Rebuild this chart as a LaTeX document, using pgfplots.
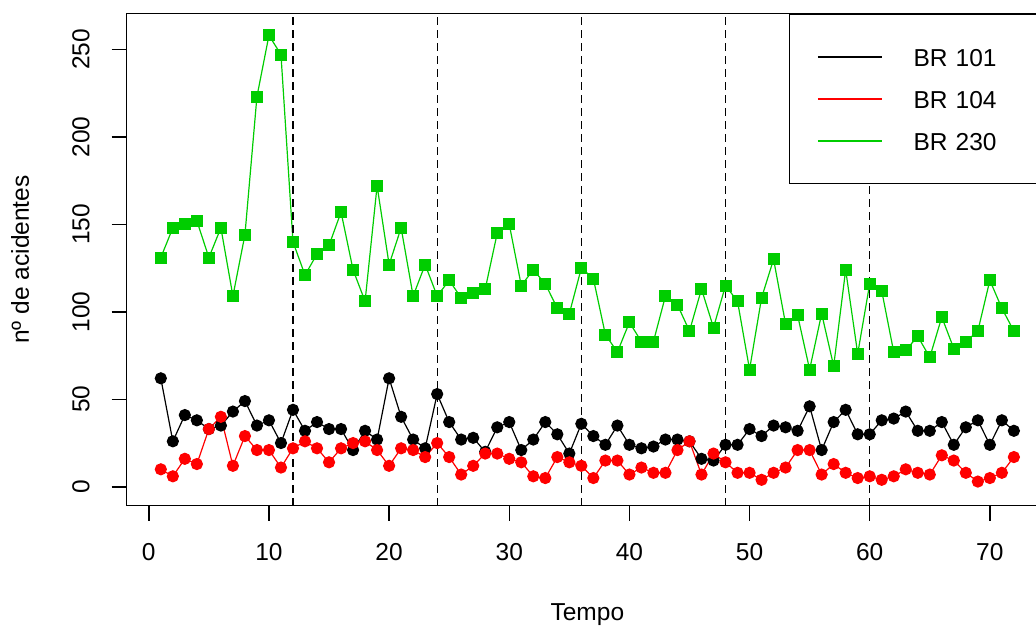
\documentclass[border=0pt]{standalone}
\usepackage{pgfplots}
\pgfplotsset{compat=1.18}
\usepackage{fontspec}
\setmainfont{Liberation Sans}
\definecolor{rgreen}{RGB}{0,205,0}
\begin{document}
\begin{tikzpicture}[font=\fontsize{12.25}{14}\selectfont]
\begin{axis}[
  at={(0,0)}, anchor=south west,
  scale only axis, width=460.65pt, height=246.2pt,
  xmin=-1.84, xmax=74.84, ymin=-10.8, ymax=270.6,
  xtick={0,10,...,70}, ytick={0,50,...,250},
  tick align=outside, major tick length=7.5pt,
  xtick pos=bottom, ytick pos=left,
  axis line style={line width=0.75pt},
  every tick/.style={black, line width=0.75pt},
  /pgf/number format/assume math mode=true,
  xticklabel style={anchor=center},
  xticklabel shift=15.5pt,
  yticklabel style={anchor=center, rotate=90},
  yticklabel shift=15.35pt,
  xlabel={Tempo},
  ylabel={nº de acidentes},
  every axis x label/.style={at={([yshift=-57.5pt]axis description cs:0.5,0)}, anchor=base},
  every axis y label/.style={at={([xshift=-53.3pt]axis description cs:0,0.5)}, rotate=90, anchor=center},
  legend style={at={(rel axis cs:1,1)}, anchor=north east, draw=black, line width=0.75pt, fill=white,
    inner xsep=13.7pt, inner ysep=13.1pt, row sep=4.5pt, column sep=13.5pt,
    /tikz/every even column/.append style={text height=11pt, text depth=8.24pt, text width=51.15pt, inner sep=0pt}},
  legend cell align=left,
  legend image code/.code={\draw[#1, line width=0.75pt] (0pt,0pt) -- (32pt,0pt);},
]
\addplot[black, line width=0.6pt, mark=*, mark size=2.75pt, mark options={solid}] coordinates {
(1,62)(2,26)(3,41)(4,38)(5,33)(6,35)(7,43)(8,49)(9,35)(10,38)(11,25)(12,44)
(13,32)(14,37)(15,33)(16,33)(17,21)(18,32)(19,27)(20,62)(21,40)(22,27)(23,22)(24,53)
(25,37)(26,27)(27,28)(28,20)(29,34)(30,37)(31,21)(32,27)(33,37)(34,30)(35,19)(36,36)
(37,29)(38,24)(39,35)(40,24)(41,22)(42,23)(43,27)(44,27)(45,26)(46,16)(47,15)(48,24)
(49,24)(50,33)(51,29)(52,35)(53,34)(54,32)(55,46)(56,21)(57,37)(58,44)(59,30)(60,30)
(61,38)(62,39)(63,43)(64,32)(65,32)(66,37)(67,24)(68,34)(69,38)(70,24)(71,38)(72,32)};
\addlegendentry{BR 101}
\addplot[red, line width=0.6pt, mark=*, mark size=2.75pt, mark options={solid}] coordinates {
(1,10)(2,6)(3,16)(4,13)(5,33)(6,40)(7,12)(8,29)(9,21)(10,21)(11,11)(12,22)
(13,26)(14,22)(15,14)(16,22)(17,25)(18,26)(19,21)(20,12)(21,22)(22,21)(23,17)(24,25)
(25,17)(26,7)(27,12)(28,19)(29,19)(30,16)(31,14)(32,6)(33,5)(34,17)(35,14)(36,12)
(37,5)(38,15)(39,15)(40,7)(41,11)(42,8)(43,8)(44,21)(45,26)(46,7)(47,19)(48,14)
(49,8)(50,8)(51,4)(52,8)(53,11)(54,21)(55,21)(56,7)(57,13)(58,8)(59,5)(60,6)
(61,4)(62,6)(63,10)(64,8)(65,7)(66,18)(67,15)(68,8)(69,3)(70,5)(71,8)(72,17)};
\addlegendentry{BR 104}
\addplot[rgreen, line width=0.6pt, mark=square*, mark size=2.7pt, mark options={solid}] coordinates {
(1,131)(2,148)(3,150)(4,152)(5,131)(6,148)(7,109)(8,144)(9,223)(10,258)(11,247)(12,140)
(13,121)(14,133)(15,138)(16,157)(17,124)(18,106)(19,172)(20,127)(21,148)(22,109)(23,127)(24,109)
(25,118)(26,108)(27,111)(28,113)(29,145)(30,150)(31,115)(32,124)(33,116)(34,102)(35,99)(36,125)
(37,119)(38,87)(39,77)(40,94)(41,83)(42,83)(43,109)(44,104)(45,89)(46,113)(47,91)(48,115)
(49,106)(50,67)(51,108)(52,130)(53,93)(54,98)(55,67)(56,99)(57,69)(58,124)(59,76)(60,116)
(61,112)(62,77)(63,78)(64,86)(65,74)(66,97)(67,79)(68,83)(69,89)(70,118)(71,102)(72,89)};
\addlegendentry{BR 230}
\addplot[black, line width=0.6pt, dash pattern=on 4pt off 2.5pt, forget plot] coordinates {(12,-10.8)(12,270.6)};
\addplot[black, line width=0.6pt, dash pattern=on 4pt off 2.5pt, forget plot] coordinates {(24,-10.8)(24,270.6)};
\addplot[black, line width=0.6pt, dash pattern=on 4pt off 2.5pt, forget plot] coordinates {(36,-10.8)(36,270.6)};
\addplot[black, line width=0.6pt, dash pattern=on 4pt off 2.5pt, forget plot] coordinates {(48,-10.8)(48,270.6)};
\addplot[black, line width=0.6pt, dash pattern=on 4pt off 2.5pt, forget plot] coordinates {(60,-10.8)(60,270.6)};
\end{axis}
\pgfresetboundingbox
\useasboundingbox (-63.35pt,-60.65pt) rectangle (454.65pt,252.85pt);
\end{tikzpicture}
\end{document}
